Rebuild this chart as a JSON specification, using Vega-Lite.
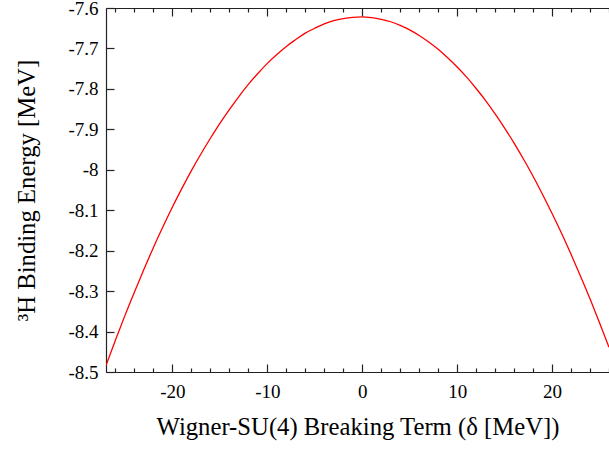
{
  "$schema": "https://vega.github.io/schema/vega-lite/v6.json",
  "width": 503,
  "height": 364,
  "autosize": {"type": "none"},
  "padding": {"left": 106, "top": 8, "right": 0, "bottom": 78},
  "background": "white",
  "config": {
    "view": {"stroke": null},
    "font": "Liberation Serif",
    "axis": {"domainColor": "#222", "tickColor": "#222", "labelColor": "black", "titleColor": "black", "labelFont": "Liberation Serif", "titleFont": "Liberation Serif", "labelFontSize": 19, "titleFontSize": 24.7, "titleFontWeight": "normal", "grid": false, "domainWidth": 1.2, "tickWidth": 1.2}
  },
  "data": {"values": [
    {"delta": -27, "E": -8.484}, {"delta": -26, "E": -8.421}, {"delta": -25, "E": -8.360}, {"delta": -24, "E": -8.302},
    {"delta": -23, "E": -8.246}, {"delta": -22, "E": -8.192}, {"delta": -21, "E": -8.141}, {"delta": -20, "E": -8.092},
    {"delta": -19, "E": -8.046}, {"delta": -18, "E": -8.002}, {"delta": -17, "E": -7.961}, {"delta": -16, "E": -7.922},
    {"delta": -15, "E": -7.885}, {"delta": -14, "E": -7.851}, {"delta": -13, "E": -7.819}, {"delta": -12, "E": -7.789},
    {"delta": -11, "E": -7.762}, {"delta": -10, "E": -7.737}, {"delta": -9, "E": -7.715}, {"delta": -8, "E": -7.695},
    {"delta": -7, "E": -7.678}, {"delta": -6, "E": -7.662}, {"delta": -5, "E": -7.650}, {"delta": -4, "E": -7.639},
    {"delta": -3, "E": -7.631}, {"delta": -2, "E": -7.626}, {"delta": -1, "E": -7.623}, {"delta": 0, "E": -7.622},
    {"delta": 1, "E": -7.624}, {"delta": 2, "E": -7.628}, {"delta": 3, "E": -7.634}, {"delta": 4, "E": -7.643},
    {"delta": 5, "E": -7.654}, {"delta": 6, "E": -7.668}, {"delta": 7, "E": -7.684}, {"delta": 8, "E": -7.702},
    {"delta": 9, "E": -7.723}, {"delta": 10, "E": -7.746}, {"delta": 11, "E": -7.771}, {"delta": 12, "E": -7.799},
    {"delta": 13, "E": -7.829}, {"delta": 14, "E": -7.862}, {"delta": 15, "E": -7.897}, {"delta": 16, "E": -7.934},
    {"delta": 17, "E": -7.974}, {"delta": 18, "E": -8.016}, {"delta": 19, "E": -8.061}, {"delta": 20, "E": -8.108},
    {"delta": 21, "E": -8.157}, {"delta": 22, "E": -8.209}, {"delta": 23, "E": -8.263}, {"delta": 24, "E": -8.319},
    {"delta": 25, "E": -8.378}, {"delta": 26, "E": -8.439}
  ]},
  "resolve": {"axis": {"x": "independent", "y": "independent"}},
  "layer": [
    {
      "mark": {"type": "line", "color": "#ff0000", "strokeWidth": 1.3, "interpolate": "monotone", "clip": true},
      "encoding": {
        "x": {"field": "delta", "type": "quantitative", "scale": {"domain": [-27, 26], "nice": false, "zero": false},
          "axis": {"orient": "bottom", "values": [-20, -10, 0, 10, 20], "tickSize": -8, "labelPadding": 18, "labelExpr": "replace(datum.label, '−', '-')", "title": "Wigner-SU(4) Breaking Term (δ [MeV])", "titlePadding": 13}},
        "y": {"field": "E", "type": "quantitative", "scale": {"domain": [-8.5, -7.6], "nice": false, "zero": false},
          "axis": {"orient": "left", "values": [-8.5, -8.4, -8.3, -8.2, -8.1, -8, -7.9, -7.8, -7.7, -7.6], "format": "~g", "labelExpr": "replace(datum.label, '−', '-')", "tickSize": -8, "labelPadding": 16, "title": "³H Binding Energy [MeV]", "titlePadding": 28}}
      }
    },
    {
      "mark": {"type": "line", "opacity": 0},
      "encoding": {
        "x": {"field": "delta", "type": "quantitative", "scale": {"domain": [-27, 26], "nice": false, "zero": false},
          "axis": {"orient": "bottom", "values": [-26, -24, -22, -18, -16, -14, -12, -8, -6, -4, -2, 2, 4, 6, 8, 12, 14, 16, 18, 22, 24, 26], "tickSize": -4, "labels": false, "domain": false, "title": null}},
        "y": {"field": "E", "type": "quantitative", "axis": null}
      }
    },
    {
      "mark": {"type": "line", "opacity": 0},
      "encoding": {
        "x": {"field": "delta", "type": "quantitative", "scale": {"domain": [-27, 26], "nice": false, "zero": false},
          "axis": {"orient": "top", "values": [-20, -10, 0, 10, 20], "tickSize": -8, "labels": false, "title": null}},
        "y": {"field": "E", "type": "quantitative", "axis": null}
      }
    },
    {
      "mark": {"type": "line", "opacity": 0},
      "encoding": {
        "x": {"field": "delta", "type": "quantitative", "scale": {"domain": [-27, 26], "nice": false, "zero": false},
          "axis": {"orient": "top", "values": [-26, -24, -22, -18, -16, -14, -12, -8, -6, -4, -2, 2, 4, 6, 8, 12, 14, 16, 18, 22, 24, 26], "tickSize": -4, "labels": false, "domain": false, "title": null}},
        "y": {"field": "E", "type": "quantitative", "axis": null}
      }
    }
  ]
}
